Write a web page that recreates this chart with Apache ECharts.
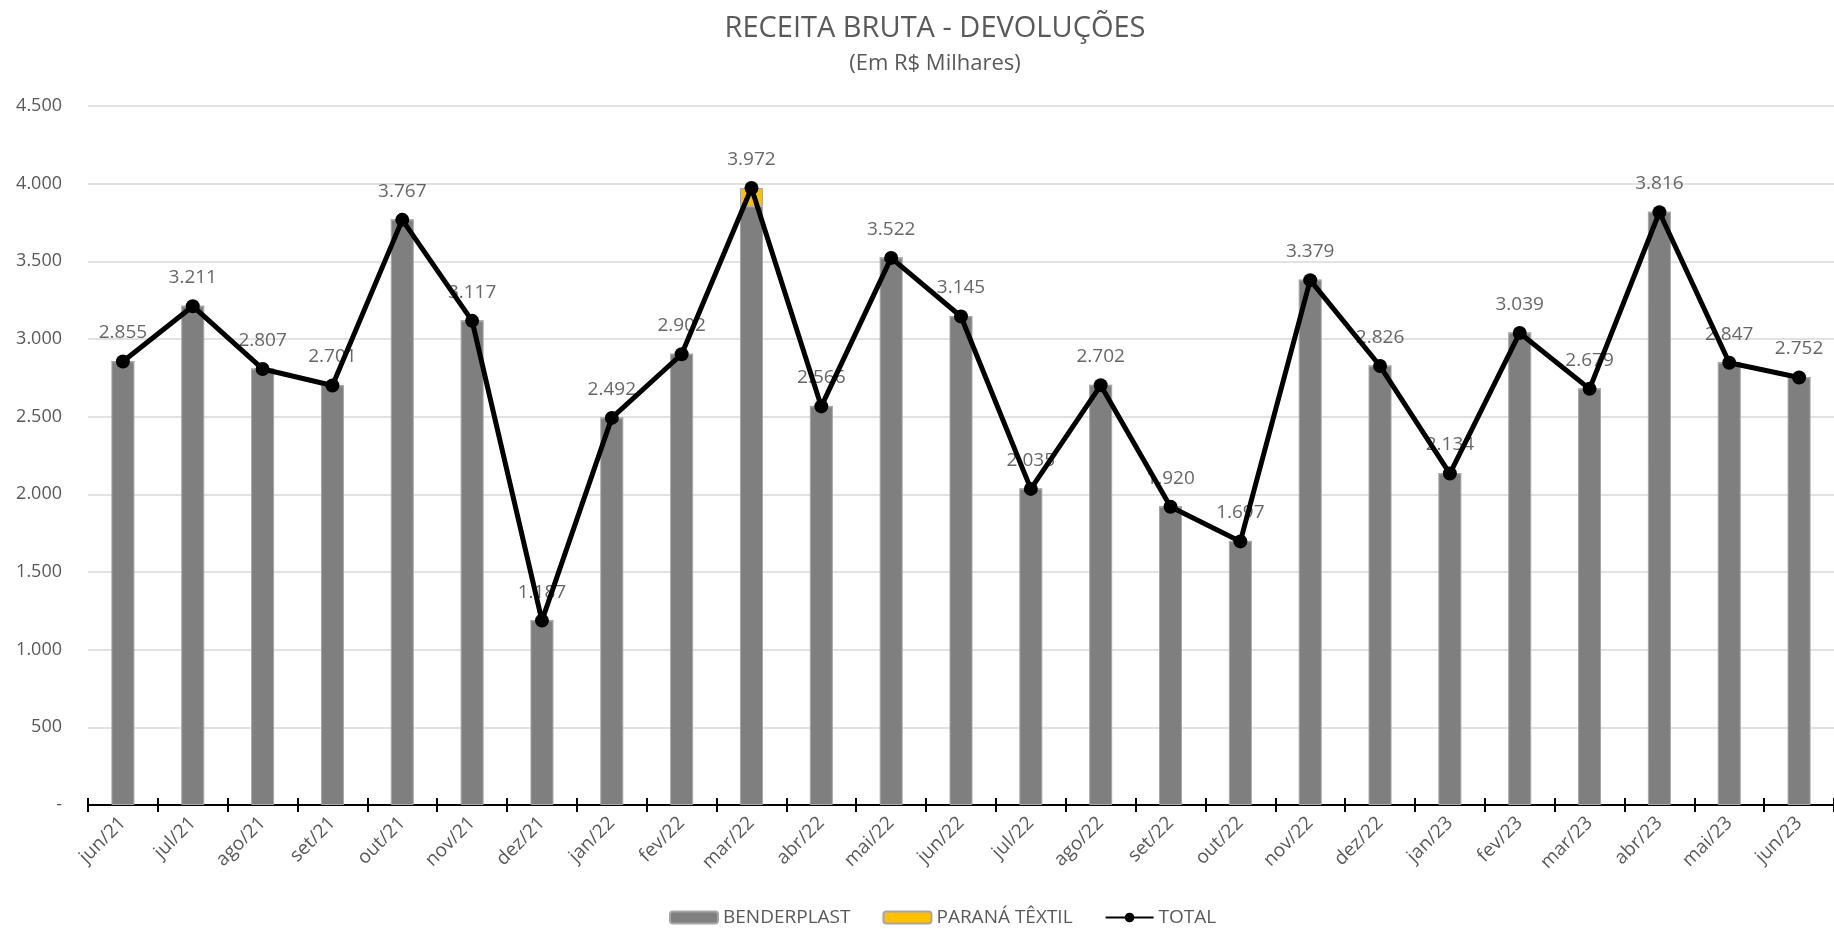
<!DOCTYPE html>
<html>
<head>
<meta charset="utf-8">
<script src="https://cdn.jsdelivr.net/npm/echarts@6/dist/echarts.min.js"></script>
<style>html,body{margin:0;padding:0;background:#fff}#c{width:1834px;height:930px}</style>
</head>
<body>
<div id="c"></div>
<script>
var categories = ['jun/21','jul/21','ago/21','set/21','out/21','nov/21','dez/21','jan/22','fev/22','mar/22','abr/22','mai/22','jun/22','jul/22','ago/22','set/22','out/22','nov/22','dez/22','jan/23','fev/23','mar/23','abr/23','mai/23','jun/23'];
var total = [2855,3211,2807,2701,3767,3117,1187,2492,2902,3972,2566,3522,3145,2035,2702,1920,1697,3379,2826,2134,3039,2679,3816,2847,2752];
var paranaTextil = [0,0,0,0,0,0,0,0,0,118,0,0,0,0,0,0,0,0,0,0,0,0,0,0,0];
var benderplast = [2855,3211,2807,2701,3767,3117,1187,2492,2902,3854,2566,3522,3145,2035,2702,1920,1697,3379,2826,2134,3039,2679,3816,2847,2752];
var yTicks = {min: 0, max: 4500, interval: 500};

function fmt(v){ if (v === 0) return '-'; return String(Math.round(v)).replace(/\B(?=(\d{3})+(?!\d))/g, '.'); }
var FONT = 'Open Sans';
var GRAY = '#595959';
var chart = echarts.init(document.getElementById('c'));
chart.setOption({
  animation: false,
  title: [
    {text: 'RECEITA BRUTA - DEVOLUÇÕES', left: 930, top: 9, textAlign: 'center',
     textStyle: {fontFamily: FONT, fontSize: 29, fontWeight: 'normal', color: GRAY}},
    {text: '(Em R$ Milhares)', left: 930, top: 48, textAlign: 'center',
     textStyle: {fontFamily: FONT, fontSize: 22, fontWeight: 'normal', color: GRAY}}
  ],
  legend: {
    bottom: -2, left: 664, itemWidth: 48, itemHeight: 12, itemGap: 32, padding: 5,
    data: ['BENDERPLAST', 'PARANÁ TÊXTIL', 'TOTAL'],
    textStyle: {fontFamily: FONT, fontSize: 19, color: GRAY}
  },
  grid: {left: 88, right: -8, top: 106, bottom: 125, containLabel: false},
  xAxis: [
    {type: 'category', data: categories, position: 'bottom',
     axisLine: {lineStyle: {color: '#000', width: 2}},
     axisTick: {show: true, length: 7, lineStyle: {color: '#000', width: 2}},
     axisLabel: {rotate: 45, margin: 15, fontFamily: FONT, fontSize: 19, color: GRAY},
     splitLine: {show: false}},
    {type: 'category', data: categories, position: 'bottom',
     axisLine: {show: false},
     axisTick: {show: true, inside: true, length: 7, lineStyle: {color: '#000', width: 2}},
     axisLabel: {show: false}, splitLine: {show: false}}
  ],
  yAxis: {
    type: 'value', min: yTicks.min, max: yTicks.max, interval: yTicks.interval,
    axisLine: {show: false}, axisTick: {show: false},
    axisLabel: {margin: 26, fontFamily: FONT, fontSize: 18, color: GRAY, formatter: fmt},
    splitLine: {lineStyle: {color: '#d9d9d9', width: 1.5}}
  },
  series: [
    {name: 'BENDERPLAST', type: 'bar', stack: 's', data: benderplast, barWidth: 23, z: 2,
     itemStyle: {color: '#7f7f7f', borderColor: '#a6a6a6', borderWidth: 1}},
    {name: 'PARANÁ TÊXTIL', type: 'bar', stack: 's', data: paranaTextil, barWidth: 23, z: 2,
     itemStyle: {color: '#ffc000', borderColor: '#a6a6a6', borderWidth: 1}},
    {name: 'TOTAL', type: 'line', data: total, z: 4, symbol: 'circle', symbolSize: 14,
     lineStyle: {color: '#000', width: 5}, itemStyle: {color: '#000'}},
    {name: 'labels', type: 'scatter', data: total, z: 1, symbolSize: 14,
     itemStyle: {color: 'rgba(0,0,0,0)'}, silent: true,
     label: {show: true, position: 'top', distance: 12, fontFamily: FONT, fontSize: 19, color: '#404040',
             formatter: function(p){ return fmt(p.value); }}}
  ]
});
</script>
</body>
</html>
